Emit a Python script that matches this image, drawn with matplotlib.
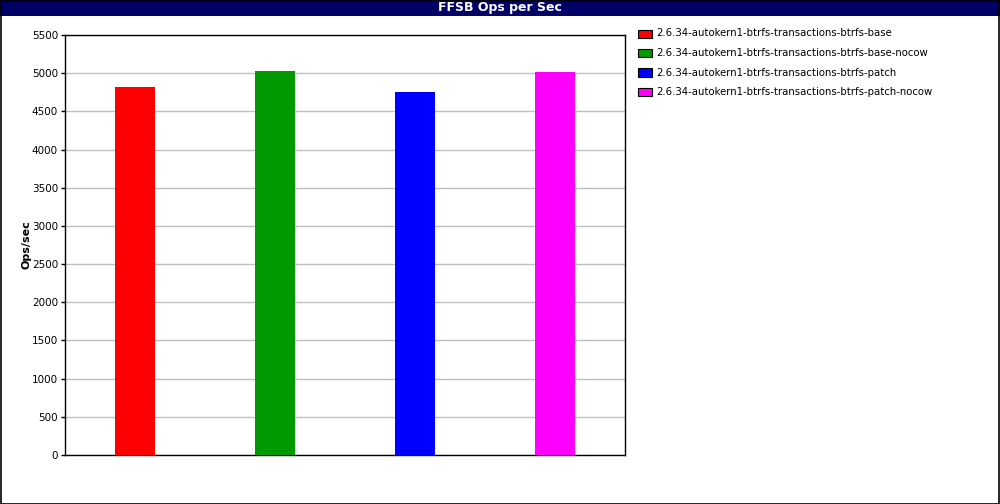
import matplotlib.pyplot as plt
from matplotlib.patches import Rectangle

# data
labels = ['2.6.34-autokern1-btrfs-transactions-btrfs-base',
          '2.6.34-autokern1-btrfs-transactions-btrfs-base-nocow',
          '2.6.34-autokern1-btrfs-transactions-btrfs-patch',
          '2.6.34-autokern1-btrfs-transactions-btrfs-patch-nocow']
ops = [4823, 5029, 4754, 5016]
colors = ['#ff0000', '#009900', '#0000ff', '#ff00ff']
yticks = list(range(0, 5501, 500))

W, H = 1000, 504
fig = plt.figure(figsize=(W/100, H/100), dpi=100)
fig.patch.set_facecolor('white')

# title bar + border
fig.add_artist(Rectangle((0, 1-16/H), 1, 16/H, transform=fig.transFigure,
                         facecolor='#000066', edgecolor='none'))
fig.add_artist(Rectangle((0.5/W, 0.5/H), 1-1.5/W, 1-1.5/H, transform=fig.transFigure,
                         facecolor='none', edgecolor='black', linewidth=1.2))
fig.text(0.5, 1-8/H, 'FFSB Ops per Sec', color='white', ha='center', va='center',
         fontsize=9, fontweight='bold', family='DejaVu Sans')

ax = fig.add_axes([65/W, 1-455/H, 560/W, 420/H])
x = range(len(ops))
ax.bar(x, ops, width=40/140, color=colors, zorder=3)
ax.set_xlim(-0.5, len(ops)-0.5)
ax.set_ylim(0, 5500)
ax.set_yticks(yticks)
ax.set_yticklabels([str(v) for v in yticks], fontsize=7.5)
ax.set_xticks([])
ax.yaxis.grid(True, color='#c0c0c0', linewidth=1, zorder=0)
ax.tick_params(axis='y', length=3, width=1, pad=2)
for s in ax.spines.values():
    s.set_linewidth(1)
ax.set_ylabel('Ops/sec', fontsize=8, fontweight='bold', labelpad=0)

# legend
for i, (lab, c) in enumerate(zip(labels, colors)):
    yy = 1 - (34 + i*19.5)/H
    fig.add_artist(Rectangle((638/W, yy-3.5/H), 14/W, 8/H, transform=fig.transFigure,
                             facecolor=c, edgecolor='black', linewidth=0.8))
    fig.text(656/W, yy + 0.5/H, lab, fontsize=7.3, va='center', ha='left')

fig.savefig('out.png', dpi=100)
